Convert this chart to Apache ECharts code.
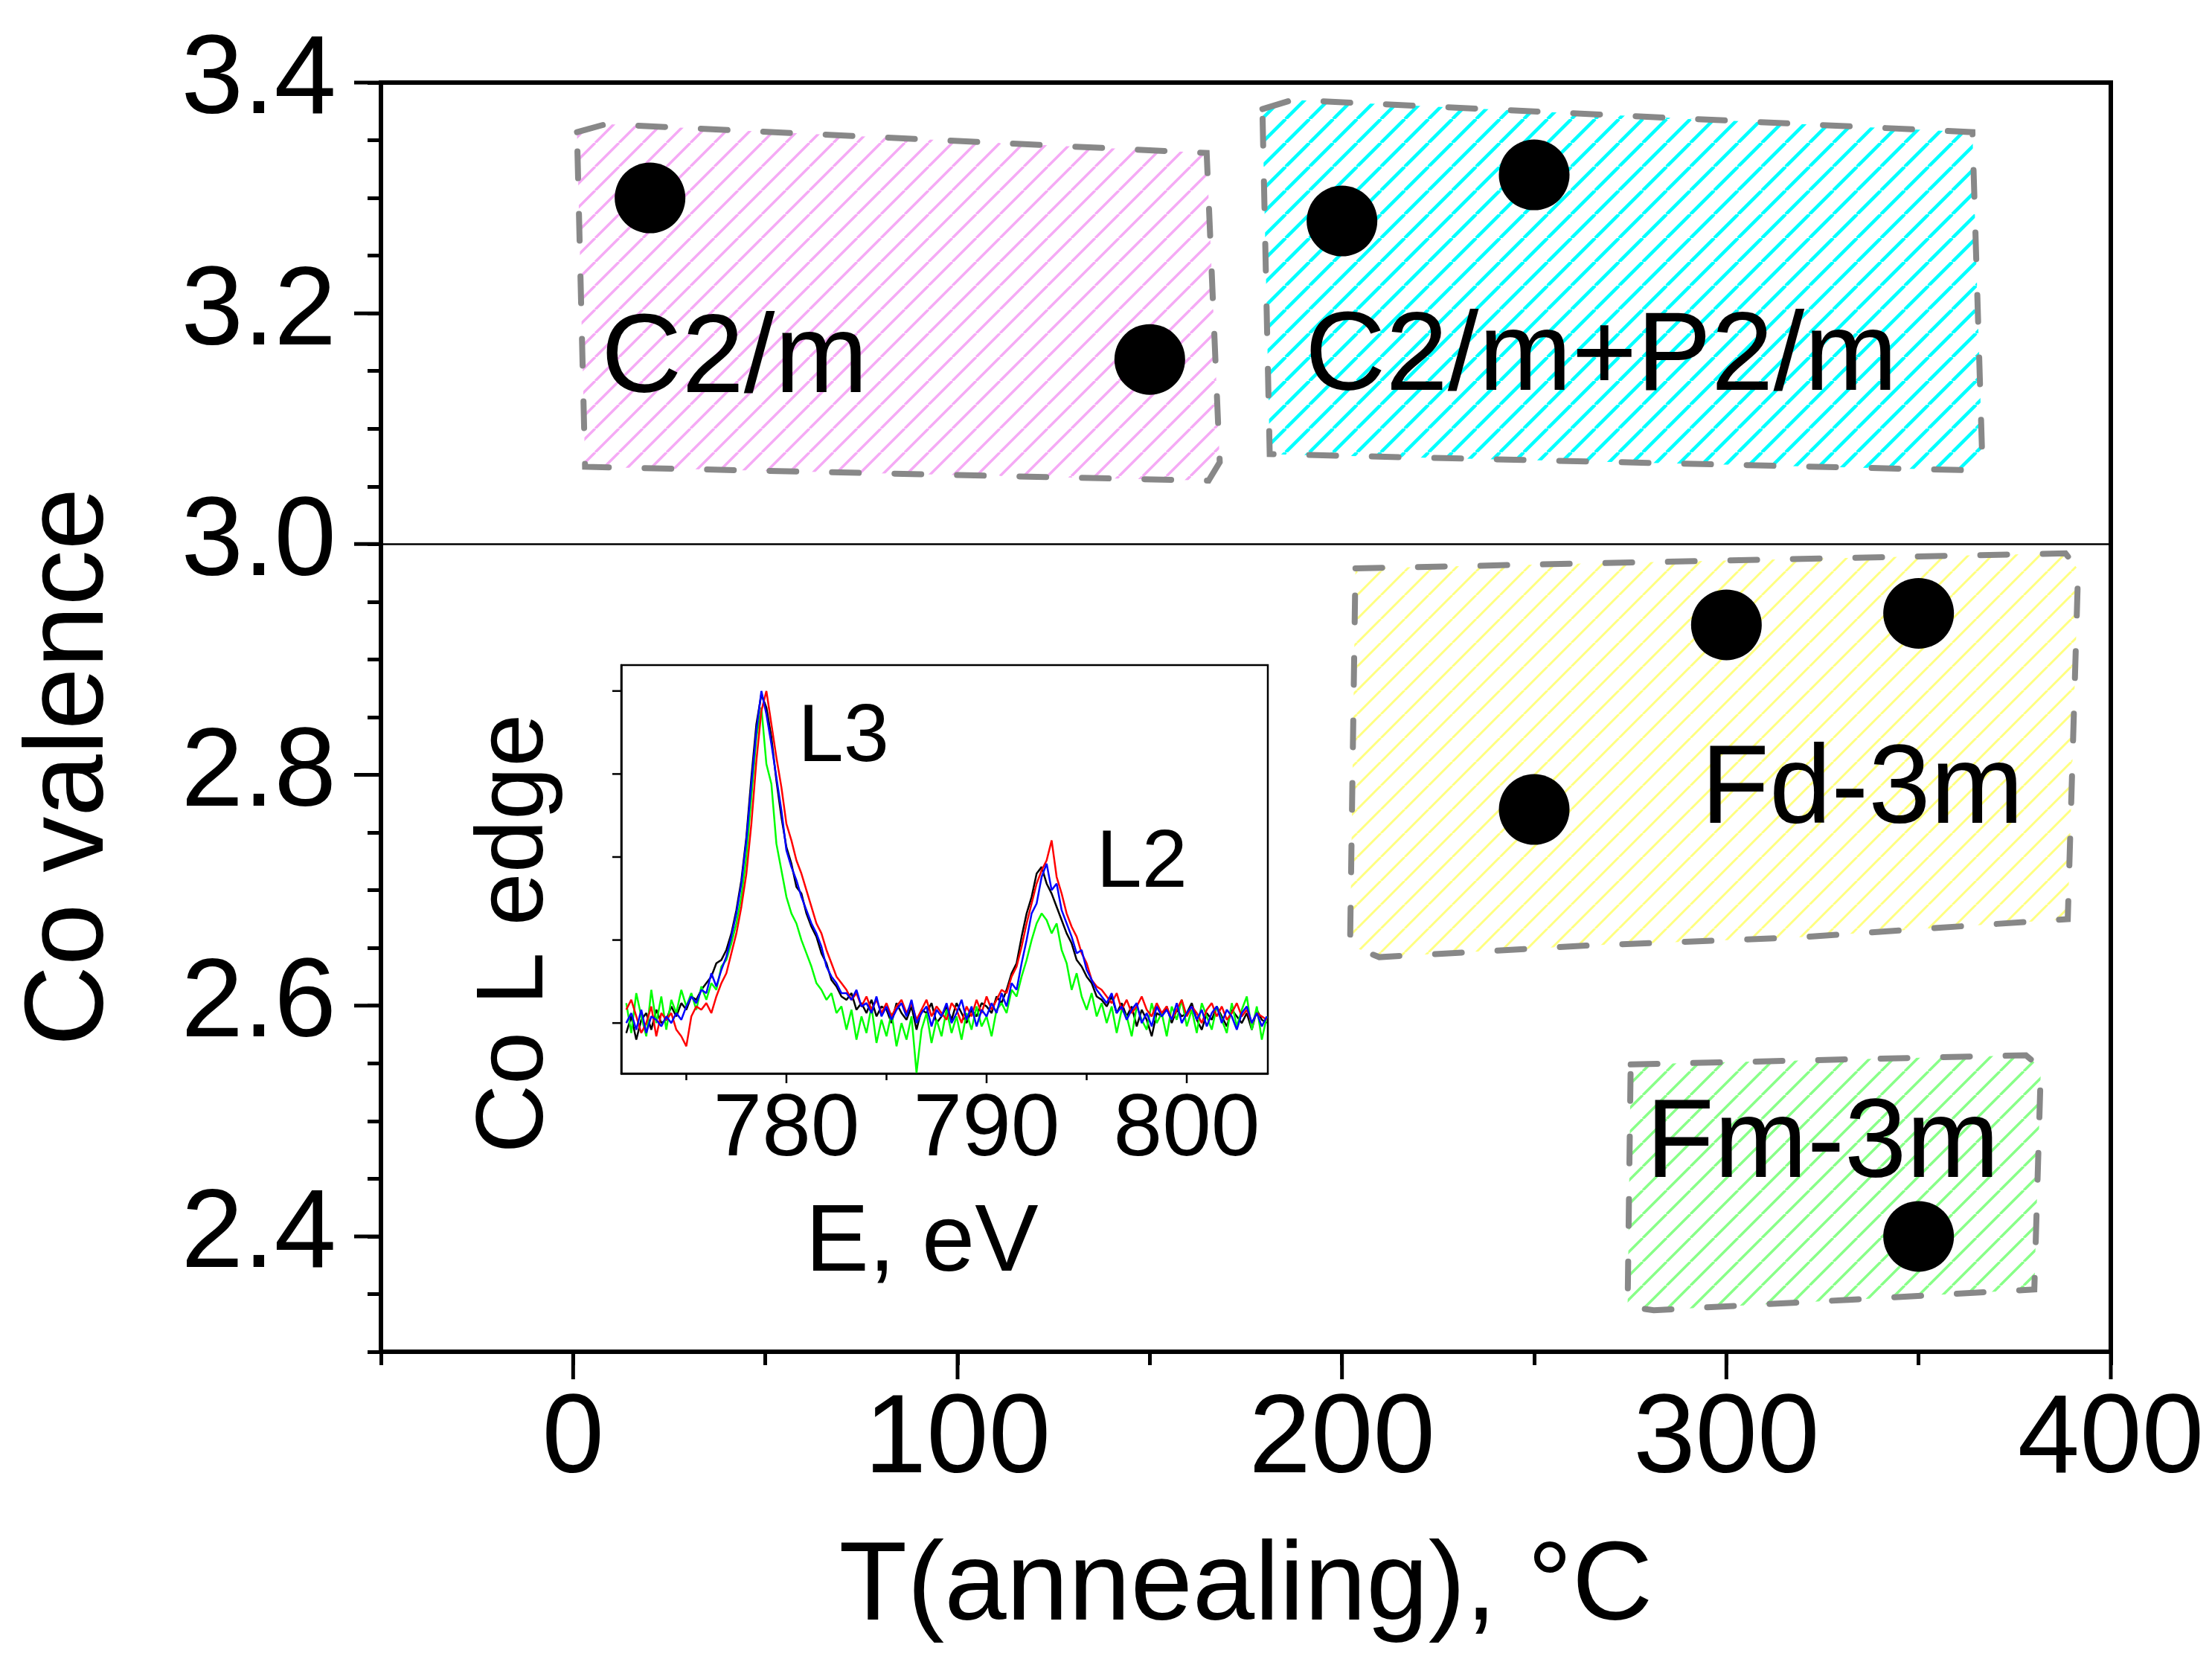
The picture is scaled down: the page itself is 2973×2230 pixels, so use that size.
<!DOCTYPE html>
<html>
<head>
<meta charset="utf-8">
<title>Co valence vs annealing temperature</title>
<script src="https://cdn.jsdelivr.net/npm/echarts@6/dist/echarts.min.js"></script>
<style>
  html, body { margin: 0; padding: 0; background: #fff; }
  #chart { width: 2973px; height: 2230px; }
</style>
</head>
<body>
<div id="chart"></div>
<script>
// main panel: Co valence against annealing temperature
const tempC = [20, 150, 200, 250, 250, 300, 350, 350];
const coValence = [3.30, 3.16, 3.28, 3.32, 2.77, 2.93, 2.94, 2.40];

const xMajorTicks = [0, 100, 200, 300, 400];
const yMajorTicks = [2.4, 2.6, 2.8, 3.0, 3.2, 3.4];

// phase regions, outline corners as [T, valence]
const regionC2m = [[1.0, 3.357], [8.5, 3.364], [164.8, 3.339], [168.2, 3.071], [165.3, 3.055], [3.1, 3.067]];
const regionC2mP2m = [[179.3, 3.377], [187.2, 3.385], [364.0, 3.357], [366.5, 3.080], [363.0, 3.064], [181.2, 3.078]];
const regionFd3m = [[203.5, 2.979], [388.2, 2.992], [391.5, 2.978], [388.8, 2.675], [317.9, 2.659], [263.5, 2.652], [209.7, 2.642], [202.1, 2.652]];
const regionFm3m = [[275.1, 2.549], [377.9, 2.557], [381.8, 2.546], [380.1, 2.354], [331.7, 2.345], [281.1, 2.336], [274.3, 2.339]];

const phaseNames = ['C2/m', 'C2/m+P2/m', 'Fd-3m', 'Fm-3m'];
const phaseLabelT = [7.4, 190.5, 293.5, 279.2];
const phaseLabelV = [3.158, 3.160, 2.785, 2.478];

// inset: Co L edge spectra
const energy = [772,772.25,772.5,772.75,773,773.25,773.5,773.75,774,774.25,774.5,774.75,775,775.25,775.5,775.75,
  776,776.25,776.5,776.75,777,777.25,777.5,777.75,778,778.25,778.5,778.75,779,779.25,779.5,779.75,
  780,780.25,780.5,780.75,781,781.25,781.5,781.75,782,782.25,782.5,782.75,783,783.25,783.5,783.75,
  784,784.25,784.5,784.75,785,785.25,785.5,785.75,786,786.25,786.5,786.75,787,787.25,787.5,787.75,
  788,788.25,788.5,788.75,789,789.25,789.5,789.75,790,790.25,790.5,790.75,791,791.25,791.5,791.75,
  792,792.25,792.5,792.75,793,793.25,793.5,793.75,794,794.25,794.5,794.75,795,795.25,795.5,795.75,
  796,796.25,796.5,796.75,797,797.25,797.5,797.75,798,798.25,798.5,798.75,799,799.25,799.5,799.75,
  800,800.25,800.5,800.75,801,801.25,801.5,801.75,802,802.25,802.5,802.75,803,803.25,803.5,803.75,804];

const edgeBlack = [-0.03,0.02,-0.05,0.01, 0.03,-0.02,0.04,0.00, 0.01,0.05,0.02,0.06, 0.04,0.08,0.07,0.10,
  0.12,0.14,0.18,0.19, 0.22,0.27,0.34,0.43, 0.56,0.74,0.90,0.99, 0.95,0.86,0.73,0.62,
  0.53,0.48,0.41,0.39, 0.33,0.29,0.26,0.21, 0.18,0.13,0.11,0.08, 0.07,0.09,0.04,0.06,
  0.03,0.07,0.02,0.05, 0.04,0.00,0.06,0.03, 0.01,0.05,-0.02,0.04, 0.03,0.06,0.00,0.02,
  0.05,0.01,0.06,0.03, 0.00,0.04,0.02,0.06, 0.05,0.03,0.08,0.06, 0.10,0.15,0.18,0.26,
  0.33,0.38,0.45,0.47, 0.42,0.39,0.35,0.31, 0.27,0.24,0.19,0.17, 0.14,0.12,0.08,0.07,
  0.05,0.08,0.03,0.06, 0.02,0.05,-0.01,0.04, 0.01,-0.04,0.03,0.02, 0.05,0.00,0.04,0.02,
  0.03,0.06,0.01,-0.02, 0.03,0.01,0.05,0.02, -0.01,0.04,0.02,0.00, 0.03,-0.02,0.04,0.01, 0.00];

const edgeGreen = [0.06,-0.03,0.09,0.02, -0.04,0.10,0.00,0.08, -0.02,0.07,0.03,0.10, 0.05,0.09,0.04,0.11,
  0.07,0.12,0.10,0.17, 0.19,0.24,0.30,0.38, 0.50,0.68,0.86,0.95, 0.78,0.72,0.54,0.46,
  0.38,0.33,0.30,0.25, 0.21,0.17,0.12,0.10, 0.07,0.09,0.03,0.05, -0.02,0.04,-0.05,0.02,
  -0.03,0.05,-0.06,0.01, -0.04,0.03,-0.07,0.00, -0.05,0.02,-0.15,-0.02, 0.03,-0.06,0.01,-0.04,
  0.04,-0.03,0.02,-0.05, 0.03,-0.02,0.05,-0.01, 0.02,-0.04,0.04,0.06, 0.03,0.10,0.08,0.14,
  0.19,0.25,0.30,0.33, 0.31,0.27,0.30,0.22, 0.18,0.10,0.15,0.08, 0.04,0.09,0.02,0.06,
  0.00,0.05,-0.03,0.04, 0.02,-0.04,0.05,0.01, -0.02,0.06,0.00,0.03, -0.04,0.05,0.01,0.07,
  -0.01,0.04,-0.03,0.06, 0.02,-0.02,0.05,0.01, -0.03,0.06,-0.01,0.04, 0.08,-0.02,0.05,-0.05, 0.02];

const edgeRed = [0.04,0.07,0.02,-0.03, 0.00,0.05,-0.04,0.03, 0.01,0.03,-0.02,-0.04, -0.07,0.02,0.05,0.04,
  0.06,0.03,0.08,0.12, 0.15,0.21,0.27,0.35, 0.45,0.60,0.79,0.94, 1.00,0.90,0.80,0.71,
  0.60,0.55,0.49,0.45, 0.40,0.35,0.30,0.27, 0.22,0.18,0.14,0.12, 0.10,0.07,0.09,0.05,
  0.08,0.04,0.07,0.03, 0.06,0.02,0.05,0.07, 0.03,0.06,0.01,0.04, 0.07,0.02,0.05,0.03,
  0.01,0.06,0.04,0.00, 0.05,0.02,0.07,0.03, 0.08,0.04,0.07,0.10, 0.09,0.14,0.17,0.23,
  0.30,0.36,0.42,0.46, 0.49,0.55,0.44,0.39, 0.33,0.29,0.26,0.21, 0.18,0.13,0.11,0.10,
  0.08,0.06,0.09,0.04, 0.07,0.03,0.05,0.08, 0.04,0.02,0.06,0.03, 0.05,0.01,0.04,0.07,
  0.02,0.05,0.03,0.00, 0.04,0.06,0.02,0.05, 0.01,0.03,0.06,0.02, 0.04,0.00,0.03,0.02, 0.01];

const edgeBlue = [0.00,0.03,-0.02,0.04, -0.03,0.02,0.01,-0.01, 0.02,0.00,0.03,0.01, 0.05,0.08,0.06,0.10,
  0.09,0.15,0.11,0.16, 0.20,0.26,0.33,0.42, 0.55,0.72,0.88,1.00, 0.93,0.84,0.74,0.64,
  0.52,0.47,0.43,0.38, 0.34,0.30,0.27,0.23, 0.17,0.14,0.12,0.09, 0.09,0.07,0.10,0.05,
  0.06,0.03,0.08,0.02, 0.05,0.01,0.04,0.06, 0.02,0.07,0.00,0.03, 0.05,-0.01,0.04,0.02,
  0.06,0.00,0.03,0.07, 0.01,0.05,-0.01,0.04, 0.02,0.06,0.03,0.09, 0.05,0.12,0.10,0.18,
  0.25,0.33,0.36,0.44, 0.48,0.40,0.42,0.34, 0.30,0.26,0.21,0.22, 0.16,0.13,0.10,0.08,
  0.06,0.09,0.03,0.05, 0.01,0.04,0.06,0.00, 0.03,-0.01,0.05,0.02, 0.04,0.01,0.06,0.00,
  0.03,0.05,0.01,0.04, -0.01,0.03,0.05,0.00, 0.04,0.02,-0.02,0.03, 0.05,0.00,0.03,-0.01, 0.02];

const insetLabels = ['L3', 'L2'];
const insetLabelE = [780.6, 795.5];
const insetLabelI = [0.856, 0.478];
const insetMajorE = [780, 790, 800];
const insetMinorE = [775, 785, 795];
const insetTicksI = [0, 0.25, 0.5, 0.75, 1];

const FONT = 'Liberation Sans';

// diagonal hatch used to fill the phase boxes
function hatch(color, width) {
  const p = 32;
  const c = document.createElement('canvas');
  c.width = c.height = p;
  const g = c.getContext('2d');
  g.strokeStyle = color;
  g.lineWidth = width;
  g.beginPath();
  for (let k = -1; k <= 1; k++) {
    g.moveTo(k * p, p);
    g.lineTo(k * p + p, 0);
  }
  g.stroke();
  return { image: c, repeat: 'repeat' };
}

const regions = [regionC2m, regionC2mP2m, regionFd3m, regionFm3m];
const regionFills = [hatch('#f5aaf5', 3.5), hatch('#00ffff', 4.5), hatch('#ffff80', 3), hatch('#88ff88', 3.5)];

// extra (long) ticks drawn against the axis scale
function tickSeries(dim, values, len, width, axisIdx) {
  return {
    type: 'custom',
    xAxisIndex: axisIdx,
    yAxisIndex: axisIdx,
    silent: true,
    z: 6,
    data: values.map(v => dim === 'x' ? [v, 0] : [0, v]),
    renderItem: (params, api) => {
      const cs = params.coordSys;
      const p = api.coord([api.value(0), api.value(1)]);
      const shape = dim === 'x'
        ? { x1: p[0], y1: cs.y + cs.height, x2: p[0], y2: cs.y + cs.height + len }
        : { x1: cs.x - len, y1: p[1], x2: cs.x, y2: p[1] };
      return { type: 'line', shape: shape, style: { stroke: '#000', lineWidth: width } };
    }
  };
}

function spectrum(values, color) {
  return {
    type: 'line',
    xAxisIndex: 1,
    yAxisIndex: 1,
    showSymbol: false,
    symbol: 'none',
    z: 5,
    lineStyle: { color: color, width: 2.5 },
    data: energy.map((e, i) => [e, values[i]])
  };
}

// plain black text placed at a data point (left edge, vertical middle)
function textLabels(names, xs, ys, size, axisIdx) {
  return {
    type: 'scatter',
    xAxisIndex: axisIdx, yAxisIndex: axisIdx,
    symbol: 'circle',
    symbolSize: 1,
    silent: true,
    z: 7,
    itemStyle: { color: 'rgba(0,0,0,0)' },
    label: {
      show: true, position: [0, 0], align: 'left', verticalAlign: 'middle',
      fontSize: size, fontFamily: FONT, color: '#000', opacity: 1,
      textBorderWidth: 0, textBorderColor: 'transparent', textShadowBlur: 0,
      formatter: p => names[p.dataIndex]
    },
    data: xs.map((x, i) => [x, ys[i]])
  };
}

const chart = echarts.init(document.getElementById('chart'));

chart.setOption({
  animation: false,
  backgroundColor: '#fff',
  textStyle: { fontFamily: FONT, color: '#000' },
  grid: [
    { left: 512, right: 136, top: 111, bottom: 413, show: true, borderColor: '#000', borderWidth: 6 },
    { left: 835, right: 1269, top: 894, bottom: 787, show: true, borderColor: '#000', borderWidth: 2.5, backgroundColor: '#fff' }
  ],
  xAxis: [
    {
      type: 'value', gridIndex: 0, min: -50, max: 400, interval: 50,
      axisLine: { onZero: false, lineStyle: { color: '#000', width: 6 } },
      axisTick: { length: 18, lineStyle: { color: '#000', width: 5 } },
      splitLine: { show: false },
      axisLabel: {
        fontSize: 150, fontFamily: FONT, color: '#000', margin: 46,
        formatter: v => (v % 100 === 0 ? String(v) : '')
      },
      name: 'T(annealing), °C', nameLocation: 'middle', nameGap: 244,
      nameTextStyle: { fontSize: 150, fontFamily: FONT, color: '#000' }
    },
    {
      type: 'value', gridIndex: 1, min: 771.75, max: 804.05, minInterval: 5, maxInterval: 5, splitNumber: 6,
      axisLine: { onZero: false, lineStyle: { color: '#000', width: 2.5 } },
      axisTick: { show: false },
      splitLine: { show: false },
      axisLabel: {
        fontSize: 118, fontFamily: FONT, color: '#000', margin: 18,
        formatter: v => (v % 10 === 0 ? String(v) : '')
      },
      name: 'E, eV', nameLocation: 'middle', nameGap: 166,
      nameTextStyle: { fontSize: 128, fontFamily: FONT, color: '#000', padding: [0, 61, 0, 0] }
    }
  ],
  yAxis: [
    {
      type: 'value', gridIndex: 0, min: 2.3, max: 3.4, interval: 0.05,
      axisLine: { onZero: false, lineStyle: { color: '#000', width: 6 } },
      axisTick: { length: 18, lineStyle: { color: '#000', width: 5 } },
      splitLine: { show: false },
      axisLabel: {
        fontSize: 150, fontFamily: FONT, color: '#000', margin: 60,
        formatter: v => (Math.round(v * 100) % 20 === 0 ? v.toFixed(1) : '')
      },
      name: 'Co valence', nameLocation: 'middle', nameGap: 340,
      nameTextStyle: { fontSize: 150, fontFamily: FONT, color: '#000', padding: [0, 134, 0, 0] }
    },
    {
      type: 'value', gridIndex: 1, min: -0.152, max: 1.078,
      axisLine: { onZero: false, lineStyle: { color: '#000', width: 2.5 } },
      axisTick: { show: false },
      axisLabel: { show: false },
      splitLine: { show: false },
      name: 'Co L edge', nameLocation: 'middle', nameGap: 77,
      nameTextStyle: { fontSize: 128, fontFamily: FONT, color: '#000', padding: [0, 173, 0, 0] }
    }
  ],
  series: [
    {
      // hatched phase boxes with dashed outline
      type: 'custom',
      xAxisIndex: 0, yAxisIndex: 0,
      silent: true,
      z: 1,
      data: regions.map((r, i) => i),
      renderItem: (params, api) => {
        const pts = regions[params.dataIndex].map(pt => api.coord(pt));
        return {
          type: 'polygon',
          shape: { points: pts },
          style: {
            fill: regionFills[params.dataIndex],
            stroke: '#888888',
            lineWidth: 8,
            lineDash: [36, 48],
            lineCap: 'round'
          }
        };
      }
    },
    {
      type: 'scatter',
      xAxisIndex: 0, yAxisIndex: 0,
      symbol: 'circle',
      symbolSize: 95,
      z: 3,
      itemStyle: { color: '#000', opacity: 1 },
      data: tempC.map((t, i) => [t, coValence[i]]),
      markLine: {
        silent: true,
        symbol: 'none',
        label: { show: false },
        lineStyle: { color: '#000', width: 2.5, type: 'solid' },
        data: [{ yAxis: 3.0 }]
      }
    },
    textLabels(phaseNames, phaseLabelT, phaseLabelV, 150, 0),
    tickSeries('y', yMajorTicks, 36, 5, 0),
    tickSeries('x', xMajorTicks, 37, 5, 0),
    spectrum(edgeBlack, '#000000'),
    spectrum(edgeGreen, '#00ff00'),
    spectrum(edgeRed, '#ff0000'),
    spectrum(edgeBlue, '#0000ff'),
    textLabels(insetLabels, insetLabelE, insetLabelI, 110, 1),
    tickSeries('y', insetTicksI, 12, 2.5, 1),
    tickSeries('x', insetMajorE, 13, 2.5, 1),
    tickSeries('x', insetMinorE, 9, 2.5, 1)
  ]
});
</script>
</body>
</html>
